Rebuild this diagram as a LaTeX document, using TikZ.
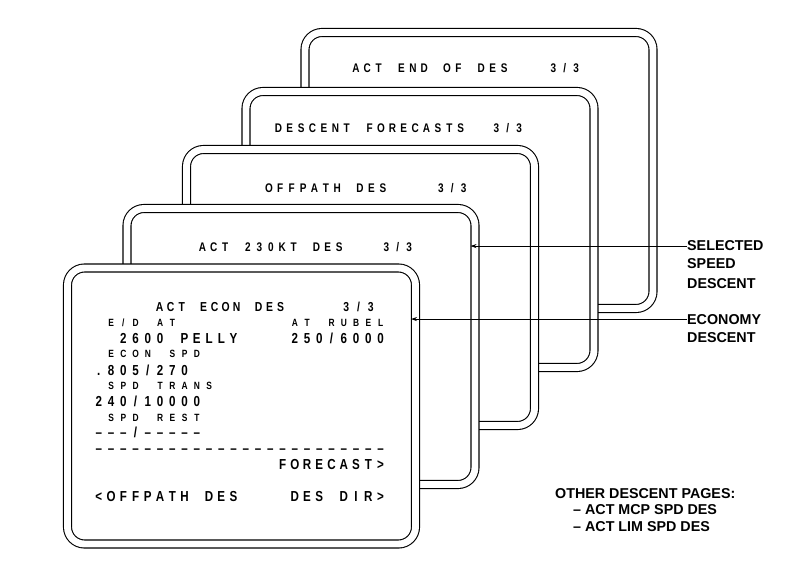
\documentclass[tikz,border=0pt]{standalone}
\usepackage{fontspec}
\setmainfont{Liberation Sans}
\newfontfamily\cdufont{Liberation Sans}[FakeStretch=0.8]
\usetikzlibrary{arrows.meta}
\newcommand\cdu[2]{\def\cdupitch{#1}\cduloop#2\relax}
\def\cduloop#1{\ifx#1\relax\else\makebox[\cdupitch pt]{#1}\expandafter\cduloop\fi}
\newcommand\cdash{\textendash}
\tikzset{
  screen/.style={draw, line width=1.1pt, double=white, double distance=6.9pt, fill=white,
    rounded corners=17pt, minimum width=348pt, minimum height=276pt, inner sep=0pt, outer sep=0pt},
  ttl/.style={anchor=base west, inner sep=0pt, font=\cdufont\bfseries\fontsize{12.5}{12.5}\selectfont},
  ftl/.style={anchor=base west, inner sep=0pt, font=\cdufont\bfseries\fontsize{13}{13}\selectfont},
  big/.style={anchor=base west, inner sep=0pt, font=\cdufont\bfseries\fontsize{14.5}{14.5}\selectfont},
  sml/.style={anchor=base west, inner sep=0pt, font=\cdufont\bfseries\fontsize{10.5}{10.5}\selectfont},
  lab/.style={anchor=base west, inner sep=0pt, font=\bfseries\fontsize{14.3}{14.3}\selectfont},
  arr/.style={line width=0.8pt, -{Stealth[length=6pt,width=4pt]}, shorten >=-4.5pt}
}
\begin{document}
\begin{tikzpicture}[x=1pt,y=-1pt]
\useasboundingbox (0,0) rectangle (789,561);
% screens, back to front
\node[screen] (f5) at (479,170.5) {};
\node[ttl] (t5a) at (350,72.5) {\cdu{11.4}{ACT~END~OF~DES}};
\node[ttl] (t5b) at (547.5,72.5) {\cdu{11.4}{3/3}};
\node[screen] (f4) at (420,229.5) {};
\node[ttl] (t4a) at (272.5,132.5) {\cdu{11.4}{DESCENT~FORECASTS}};
\node[ttl] (t4b) at (490.5,132.5) {\cdu{11.4}{3/3}};
\node[screen] (f3) at (360.5,287.5) {};
\node[ttl] (t3a) at (263,192.5) {\cdu{11.4}{OFFPATH~DES}};
\node[ttl] (t3b) at (435,192.5) {\cdu{11.4}{3/3}};
\node[screen] (f2) at (301,346.5) {};
\node[ttl] (t2a) at (196.5,251.5) {\cdu{11.4}{ACT~230KT~DES}};
\node[ttl] (t2b) at (380.5,251.5) {\cdu{11.4}{3/3}};
\node[screen] (f1) at (241.5,406) {};
% front screen text
\node[ftl] (r0a) at (154,311.3) {\cdu{11}{ACT~ECON~DES}};
\node[ftl] (r0b) at (340,311.3) {\cdu{12.25}{3/3}};
\node[sml] (r1a) at (104.75,326.3) {\cdu{12.25}{E/D~AT}};
\node[sml] (r1b) at (288.5,326.3) {\cdu{12.25}{AT~RUBEL}};
\node[big] (r2a) at (117,343.5) {\cdu{12.25}{2600~PELLY}};
\node[big] (r2b) at (288.5,343.5) {\cdu{12.25}{250/6000}};
\node[sml] (r3) at (104.75,357.9) {\cdu{12.25}{ECON~SPD}};
\node[big] (r4) at (92.5,375.1) {\cdu{12.25}{.805/270}};
\node[sml] (r5) at (104.75,389.5) {\cdu{12.25}{SPD~TRANS}};
\node[big] (r6) at (92.5,406.7) {\cdu{12.25}{240/10000}};
\node[sml] (r7) at (104.75,421.1) {\cdu{12.25}{SPD~REST}};
\node[big] (r8) at (92.5,437.5) {\cdu{12.25}{\cdash\cdash\cdash/\cdash\cdash\cdash\cdash\cdash}};
\node[big] (r9) at (92.5,453.2) {\cdu{12.25}{\cdash\cdash\cdash\cdash\cdash\cdash\cdash\cdash\cdash\cdash\cdash\cdash\cdash\cdash\cdash\cdash\cdash\cdash\cdash\cdash\cdash\cdash\cdash\cdash}};
\node[big] (r10) at (276.25,469.9) {\cdu{12.25}{FORECAST>}};
\node[big] (r12a) at (92.5,501.5) {\cdu{12.25}{<OFFPATH~DES}};
\node[big] (r12b) at (288.5,501.5) {\cdu{12.25}{DES~DIR>}};
% labels
\node[lab] (sel1) at (687,251) {SELECTED};
\node[lab] (sel2) at (687,269) {SPEED};
\node[lab] (sel3) at (687,288) {DESCENT};
\node[lab] (eco1) at (687,324) {ECONOMY};
\node[lab] (eco2) at (687,342) {DESCENT};
\draw[arr] (sel1.west) -- (sel1.west -| f2.east);
\draw[arr] (eco1.west) -- (eco1.west -| f1.east);
\node[lab] (oth1) at (555,498) {OTHER DESCENT PAGES:};
\node[lab] (oth2) at (573,514.5) {\textendash\ ACT MCP SPD DES};
\node[lab] (oth3) at (573,531) {\textendash\ ACT LIM SPD DES};
\end{tikzpicture}
\end{document}
